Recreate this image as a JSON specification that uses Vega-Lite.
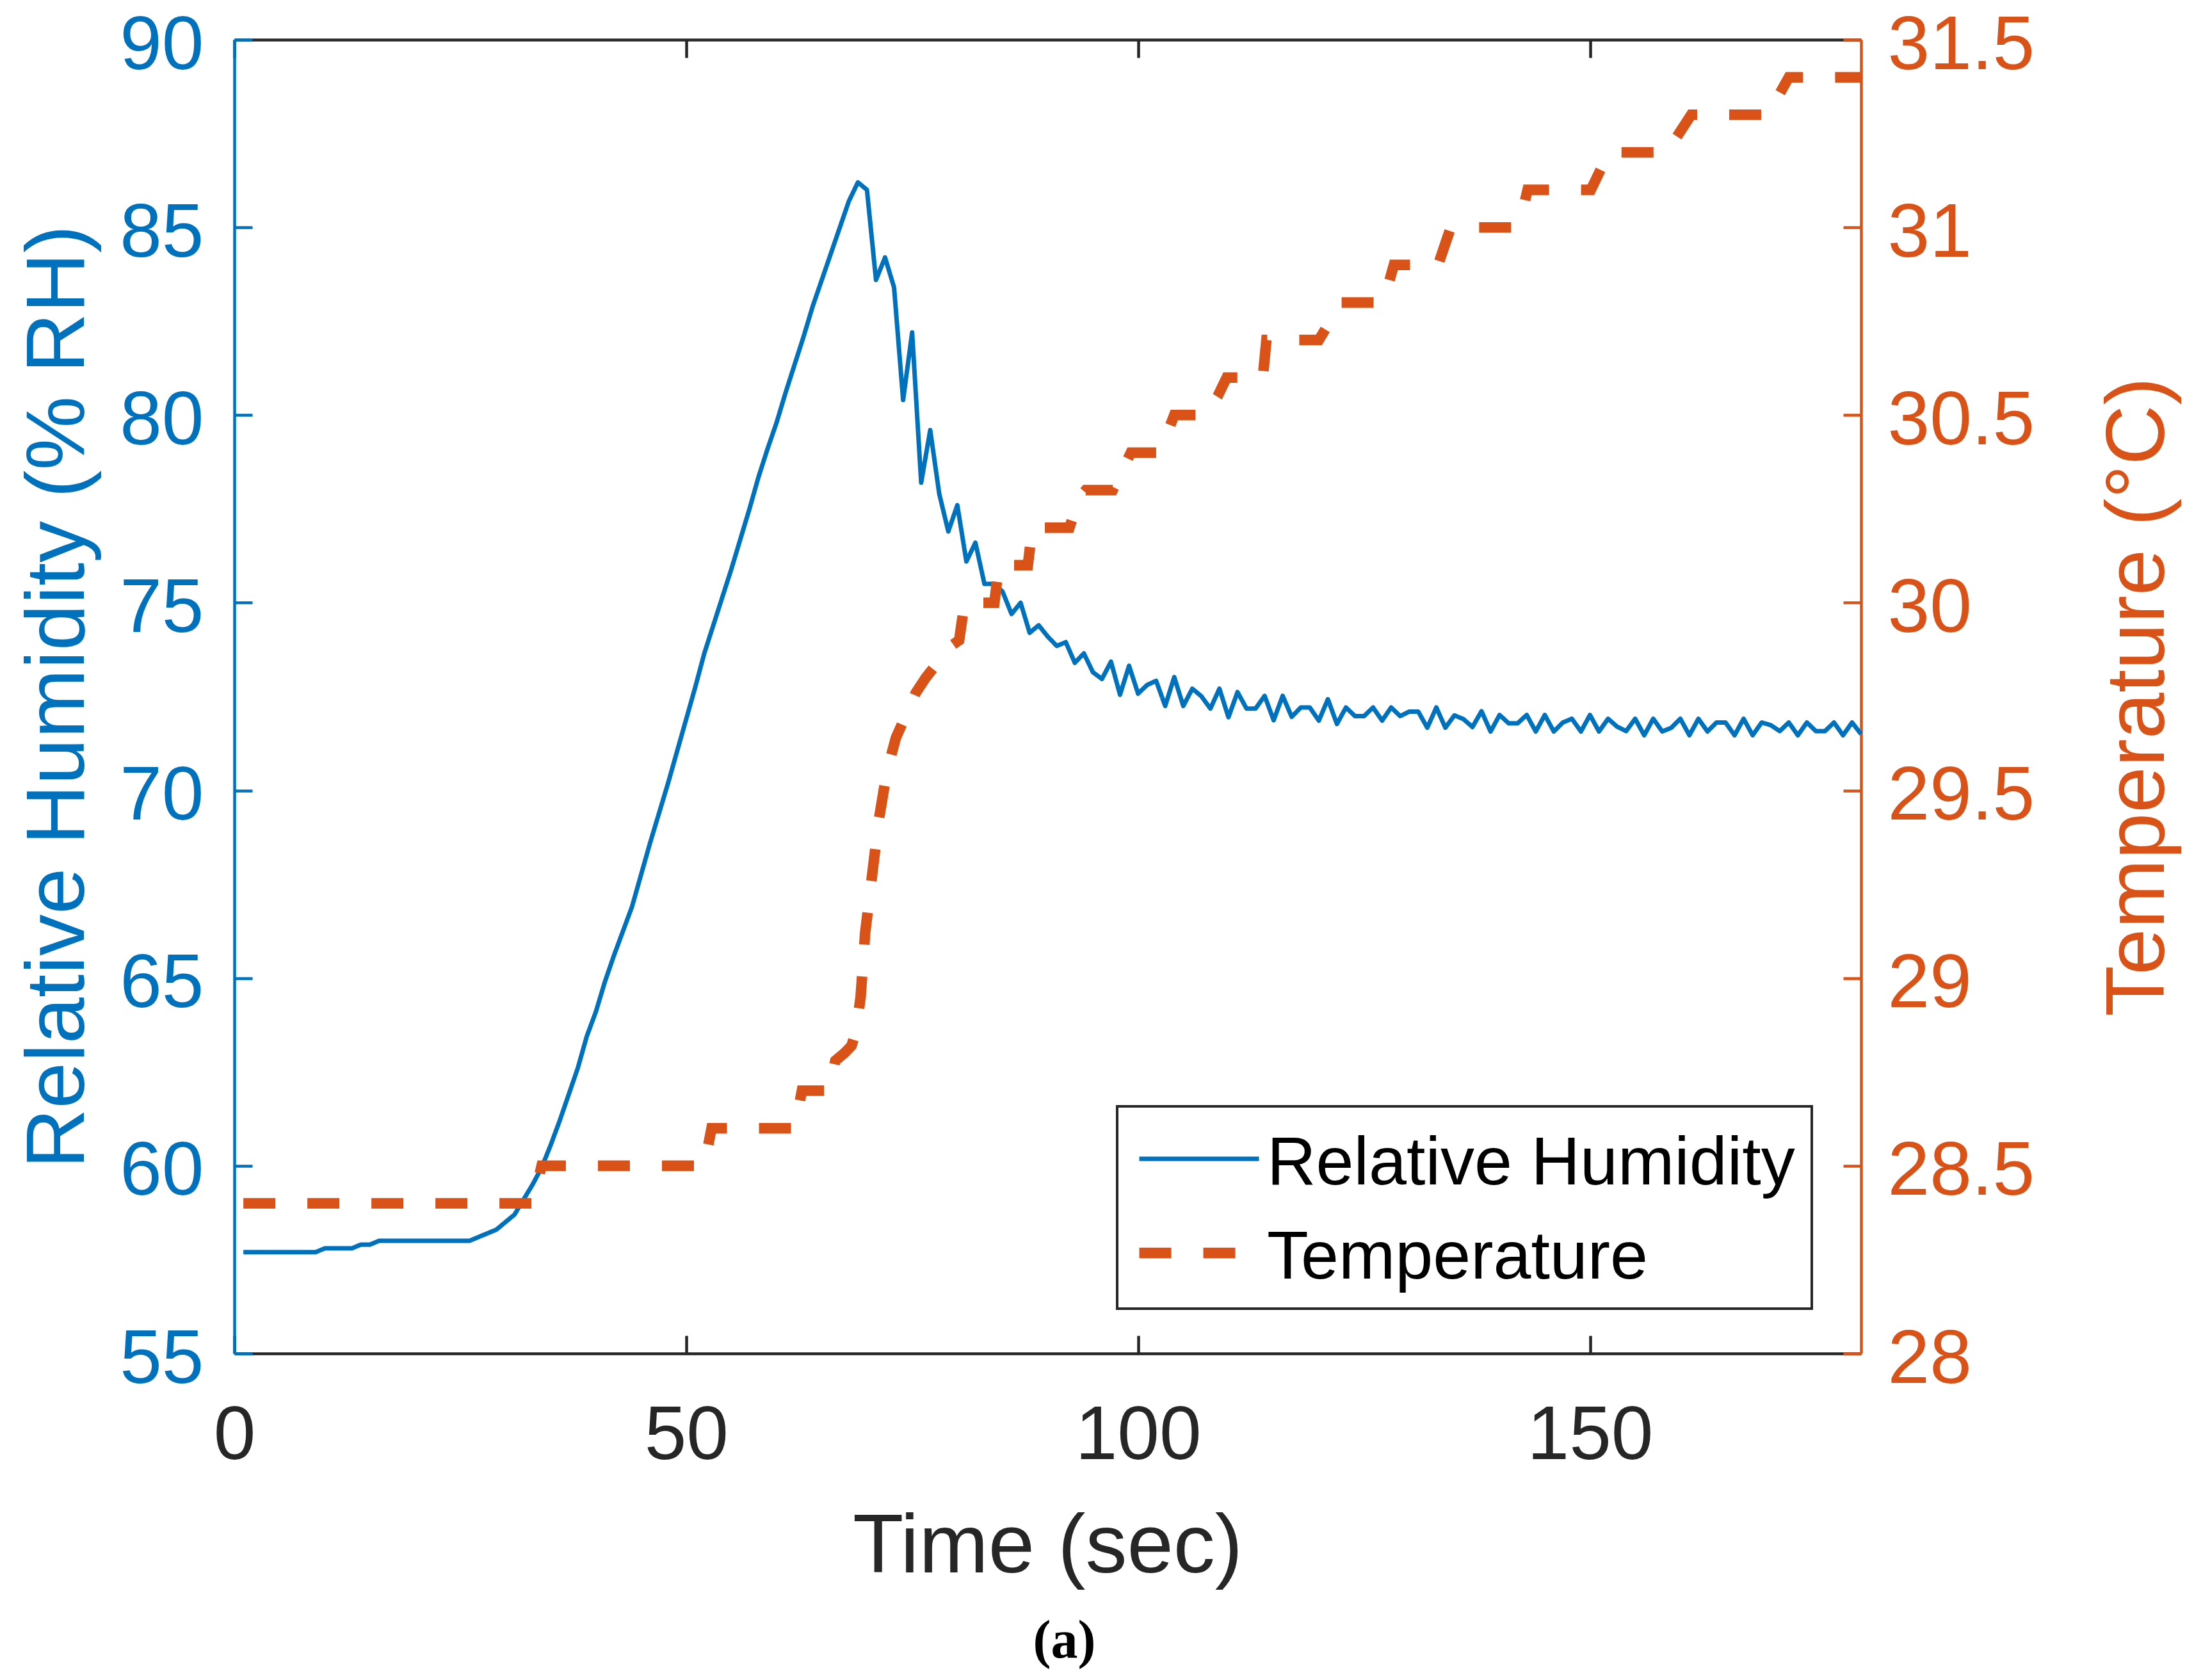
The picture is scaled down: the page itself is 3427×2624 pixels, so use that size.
{
  "$schema": "https://vega.github.io/schema/vega-lite/v6.json",
  "description": "Relative humidity and temperature over time, two y axes.",
  "width": 2541,
  "height": 2052,
  "autosize": "none",
  "padding": {"left": 366, "top": 62, "right": 520, "bottom": 510},
  "background": "white",
  "title": {
    "text": "(a)",
    "orient": "bottom",
    "anchor": "middle",
    "font": "Liberation Serif",
    "fontSize": 84,
    "fontWeight": "bold",
    "color": "#000000",
    "offset": 42,
    "dx": 26
  },
  "datasets": {
    "rh": [
      {"time": 1, "rh": 57.7}, {"time": 9, "rh": 57.7}, {"time": 10, "rh": 57.8}, {"time": 13, "rh": 57.8},
      {"time": 14, "rh": 57.9}, {"time": 15, "rh": 57.9}, {"time": 16, "rh": 58.0}, {"time": 26, "rh": 58.0},
      {"time": 27, "rh": 58.1}, {"time": 28, "rh": 58.2}, {"time": 29, "rh": 58.3}, {"time": 30, "rh": 58.5},
      {"time": 31, "rh": 58.7}, {"time": 32, "rh": 59.1}, {"time": 33, "rh": 59.5}, {"time": 34, "rh": 59.95},
      {"time": 35, "rh": 60.55}, {"time": 36, "rh": 61.2}, {"time": 37, "rh": 61.9}, {"time": 38, "rh": 62.6},
      {"time": 39, "rh": 63.45}, {"time": 40, "rh": 64.1}, {"time": 41, "rh": 64.9}, {"time": 42, "rh": 65.6},
      {"time": 43, "rh": 66.25}, {"time": 44, "rh": 66.9}, {"time": 45, "rh": 67.75}, {"time": 46, "rh": 68.6},
      {"time": 47, "rh": 69.4}, {"time": 48, "rh": 70.2}, {"time": 49, "rh": 71.05}, {"time": 50, "rh": 71.9},
      {"time": 51, "rh": 72.75}, {"time": 52, "rh": 73.65}, {"time": 53, "rh": 74.4}, {"time": 54, "rh": 75.15},
      {"time": 55, "rh": 75.9}, {"time": 56, "rh": 76.7}, {"time": 57, "rh": 77.5}, {"time": 58, "rh": 78.35},
      {"time": 59, "rh": 79.1}, {"time": 60, "rh": 79.8}, {"time": 61, "rh": 80.6}, {"time": 62, "rh": 81.35},
      {"time": 63, "rh": 82.1}, {"time": 64, "rh": 82.9}, {"time": 65, "rh": 83.6}, {"time": 66, "rh": 84.3},
      {"time": 67, "rh": 85.0}, {"time": 68, "rh": 85.7}, {"time": 69, "rh": 86.2}, {"time": 70, "rh": 86.0},
      {"time": 71, "rh": 83.6}, {"time": 72, "rh": 84.2}, {"time": 73, "rh": 83.4}, {"time": 74, "rh": 80.4},
      {"time": 75, "rh": 82.2}, {"time": 76, "rh": 78.2}, {"time": 77, "rh": 79.6}, {"time": 78, "rh": 77.9},
      {"time": 79, "rh": 76.9}, {"time": 80, "rh": 77.6}, {"time": 81, "rh": 76.1}, {"time": 82, "rh": 76.6},
      {"time": 83, "rh": 75.5}, {"time": 84, "rh": 75.5}, {"time": 85, "rh": 75.3}, {"time": 86, "rh": 74.7},
      {"time": 87, "rh": 75.0}, {"time": 88, "rh": 74.2}, {"time": 89, "rh": 74.4}, {"time": 90, "rh": 74.1},
      {"time": 91, "rh": 73.85}, {"time": 92, "rh": 73.95}, {"time": 93, "rh": 73.4}, {"time": 94, "rh": 73.65},
      {"time": 95, "rh": 73.15}, {"time": 96, "rh": 72.97}, {"time": 97, "rh": 73.43}, {"time": 98, "rh": 72.55},
      {"time": 99, "rh": 73.32}, {"time": 100, "rh": 72.58}, {"time": 101, "rh": 72.81}, {"time": 102, "rh": 72.92},
      {"time": 103, "rh": 72.25}, {"time": 104, "rh": 73.02}, {"time": 105, "rh": 72.25}, {"time": 106, "rh": 72.71},
      {"time": 107, "rh": 72.51}, {"time": 108, "rh": 72.18}, {"time": 109, "rh": 72.71}, {"time": 110, "rh": 71.95},
      {"time": 111, "rh": 72.62}, {"time": 112, "rh": 72.18}, {"time": 113, "rh": 72.18}, {"time": 114, "rh": 72.52},
      {"time": 115, "rh": 71.87}, {"time": 116, "rh": 72.52}, {"time": 117, "rh": 71.96}, {"time": 118, "rh": 72.21},
      {"time": 119, "rh": 72.21}, {"time": 120, "rh": 71.86}, {"time": 121, "rh": 72.43}, {"time": 122, "rh": 71.77},
      {"time": 123, "rh": 72.21}, {"time": 124, "rh": 71.98}, {"time": 125, "rh": 71.98}, {"time": 126, "rh": 72.21},
      {"time": 127, "rh": 71.86}, {"time": 128, "rh": 72.21}, {"time": 129, "rh": 71.98}, {"time": 130, "rh": 72.1},
      {"time": 131, "rh": 72.1}, {"time": 132, "rh": 71.67}, {"time": 133, "rh": 72.21}, {"time": 134, "rh": 71.67},
      {"time": 135, "rh": 72.0}, {"time": 136, "rh": 71.9}, {"time": 137, "rh": 71.69}, {"time": 138, "rh": 72.11},
      {"time": 139, "rh": 71.57}, {"time": 140, "rh": 72.01}, {"time": 141, "rh": 71.79}, {"time": 142, "rh": 71.79},
      {"time": 143, "rh": 72.01}, {"time": 144, "rh": 71.57}, {"time": 145, "rh": 72.01}, {"time": 146, "rh": 71.57},
      {"time": 147, "rh": 71.81}, {"time": 148, "rh": 71.91}, {"time": 149, "rh": 71.57}, {"time": 150, "rh": 72.01},
      {"time": 151, "rh": 71.57}, {"time": 152, "rh": 71.91}, {"time": 153, "rh": 71.7}, {"time": 154, "rh": 71.58},
      {"time": 155, "rh": 71.91}, {"time": 156, "rh": 71.47}, {"time": 157, "rh": 71.91}, {"time": 158, "rh": 71.57},
      {"time": 159, "rh": 71.67}, {"time": 160, "rh": 71.91}, {"time": 161, "rh": 71.47}, {"time": 162, "rh": 71.91},
      {"time": 163, "rh": 71.57}, {"time": 164, "rh": 71.81}, {"time": 165, "rh": 71.81}, {"time": 166, "rh": 71.47},
      {"time": 167, "rh": 71.91}, {"time": 168, "rh": 71.47}, {"time": 169, "rh": 71.81}, {"time": 170, "rh": 71.74},
      {"time": 171, "rh": 71.58}, {"time": 172, "rh": 71.81}, {"time": 173, "rh": 71.47}, {"time": 174, "rh": 71.81},
      {"time": 175, "rh": 71.58}, {"time": 176, "rh": 71.58}, {"time": 177, "rh": 71.81}, {"time": 178, "rh": 71.47},
      {"time": 179, "rh": 71.81}, {"time": 180, "rh": 71.5}
    ],
    "temp": [
      {"time": 1, "temp": 28.4}, {"time": 33, "temp": 28.4}, {"time": 34, "temp": 28.5}, {"time": 52, "temp": 28.5},
      {"time": 52.8, "temp": 28.6}, {"time": 62, "temp": 28.6}, {"time": 62.8, "temp": 28.7}, {"time": 65.8, "temp": 28.7},
      {"time": 66.5, "temp": 28.78}, {"time": 67.5, "temp": 28.8}, {"time": 68.3, "temp": 28.82}, {"time": 68.8, "temp": 28.86},
      {"time": 69.3, "temp": 28.95}, {"time": 69.8, "temp": 29.12}, {"time": 70.6, "temp": 29.28}, {"time": 71.3, "temp": 29.42},
      {"time": 72.2, "temp": 29.55}, {"time": 73.2, "temp": 29.64}, {"time": 74.3, "temp": 29.7}, {"time": 75.4, "temp": 29.76},
      {"time": 76.5, "temp": 29.8}, {"time": 77.8, "temp": 29.84}, {"time": 79, "temp": 29.88}, {"time": 80.2, "temp": 29.9},
      {"time": 80.8, "temp": 30.0}, {"time": 84.1, "temp": 30.0}, {"time": 84.6, "temp": 30.1}, {"time": 87.8, "temp": 30.1},
      {"time": 88.3, "temp": 30.2}, {"time": 92.4, "temp": 30.2}, {"time": 93.5, "temp": 30.28}, {"time": 94.2, "temp": 30.3},
      {"time": 97.2, "temp": 30.3}, {"time": 98.4, "temp": 30.36}, {"time": 99.2, "temp": 30.4}, {"time": 102.2, "temp": 30.4},
      {"time": 103.2, "temp": 30.45}, {"time": 104, "temp": 30.5}, {"time": 107.5, "temp": 30.5}, {"time": 108.8, "temp": 30.55},
      {"time": 109.8, "temp": 30.6}, {"time": 113.8, "temp": 30.6}, {"time": 114.2, "temp": 30.7}, {"time": 120, "temp": 30.7},
      {"time": 121, "temp": 30.74}, {"time": 122.4, "temp": 30.8}, {"time": 127, "temp": 30.8}, {"time": 127.6, "temp": 30.84},
      {"time": 128.3, "temp": 30.9}, {"time": 133.2, "temp": 30.9}, {"time": 134.6, "temp": 31.0}, {"time": 141.4, "temp": 31.0},
      {"time": 142.4, "temp": 31.03}, {"time": 143.1, "temp": 31.1}, {"time": 150.1, "temp": 31.1}, {"time": 152.1, "temp": 31.2},
      {"time": 158.5, "temp": 31.2}, {"time": 161.2, "temp": 31.3}, {"time": 169.7, "temp": 31.3}, {"time": 172.0, "temp": 31.4},
      {"time": 180, "temp": 31.4}
    ]
  },
  "layer": [
    {
      "data": {"name": "rh"},
      "mark": {"type": "line", "strokeJoin": "round"},
      "encoding": {
        "x": {
          "field": "time",
          "type": "quantitative",
          "scale": {"domain": [0, 180], "nice": false},
          "axis": {
            "orient": "bottom",
            "values": [0, 50, 100, 150],
            "title": "Time (sec)",
            "titleX": 1270,
            "titleY": 341,
            "titleAlign": "center",
            "titleBaseline": "alphabetic",
            "labelPadding": 99,
            "labelBaseline": "top",
            "domainColor": "#262626",
            "tickColor": "#262626",
            "labelColor": "#262626",
            "titleColor": "#262626"
          }
        },
        "y": {
          "field": "rh",
          "type": "quantitative",
          "scale": {"domain": [55, 90], "nice": false, "zero": false},
          "axis": {
            "orient": "left",
            "values": [55, 60, 65, 70, 75, 80, 85, 90],
            "title": "Relative Humidity (% RH)",
            "titleAngle": 270,
            "titleX": -236,
            "titleY": 1026,
            "titleAlign": "center",
            "titleBaseline": "alphabetic",
            "labelPadding": 76,
            "labelOffset": 10,
            "domainColor": "#0072BD",
            "tickColor": "#0072BD",
            "labelColor": "#0072BD",
            "titleColor": "#0072BD"
          }
        },
        "color": {
          "datum": "Relative Humidity",
          "type": "nominal",
          "scale": {"domain": ["Relative Humidity", "Temperature"], "range": ["#0072BD", "#D95319"]},
          "legend": {
            "orient": "none",
            "legendX": 1379,
            "legendY": 1666,
            "title": null,
            "encode": {"labels": {"update": {"dy": {"value": 8}}}}
          }
        },
        "strokeDash": {
          "datum": "Relative Humidity",
          "type": "nominal",
          "scale": {"domain": ["Relative Humidity", "Temperature"], "range": [[1, 0], [50, 50]]}
        },
        "strokeWidth": {
          "datum": "Relative Humidity",
          "type": "ordinal",
          "scale": {"domain": ["Relative Humidity", "Temperature"], "range": [7, 16.5]}
        }
      }
    },
    {
      "data": {"name": "temp"},
      "mark": {"type": "line"},
      "encoding": {
        "x": {
          "field": "time",
          "type": "quantitative",
          "axis": {
            "orient": "top",
            "values": [0, 50, 100, 150],
            "labels": false,
            "title": null,
            "domainColor": "#262626",
            "tickColor": "#262626"
          }
        },
        "y": {
          "field": "temp",
          "type": "quantitative",
          "scale": {"domain": [28, 31.5], "nice": false, "zero": false},
          "axis": {
            "orient": "right",
            "values": [28, 28.5, 29, 29.5, 30, 30.5, 31, 31.5],
            "format": "~g",
            "title": "Temperature (°C)",
            "titleAngle": 270,
            "titleX": 472,
            "titleY": 1026,
            "titleAlign": "center",
            "titleBaseline": "alphabetic",
            "labelPadding": 69,
            "labelOffset": 10,
            "domainColor": "#D95319",
            "tickColor": "#D95319",
            "labelColor": "#D95319",
            "titleColor": "#D95319"
          }
        },
        "color": {"datum": "Temperature", "type": "nominal"},
        "strokeDash": {"datum": "Temperature", "type": "nominal"},
        "strokeWidth": {"datum": "Temperature", "type": "ordinal"}
      }
    }
  ],
  "resolve": {"scale": {"y": "independent"}, "axis": {"x": "independent"}},
  "config": {
    "view": {"stroke": null},
    "axis": {
      "grid": false,
      "tickSize": -28,
      "tickWidth": 4.5,
      "domainWidth": 4.5,
      "labelFont": "Liberation Sans",
      "labelFontSize": 118,
      "titleFont": "Liberation Sans",
      "titleFontSize": 130,
      "titleFontWeight": "normal",
      "labelFlush": false,
      "labelOverlap": false,
      "labelBound": false,
      "labelLimit": 0
    },
    "legend": {
      "symbolType": "stroke",
      "symbolSize": 34969,
      "clipHeight": 112,
      "labelFont": "Liberation Sans",
      "labelFontSize": 106,
      "labelColor": "#000000",
      "labelOffset": 4,
      "labelLimit": 0,
      "padding": 26,
      "rowPadding": 30,
      "strokeColor": "#262626",
      "strokeWidth": 4,
      "fillColor": "#ffffff"
    }
  }
}
